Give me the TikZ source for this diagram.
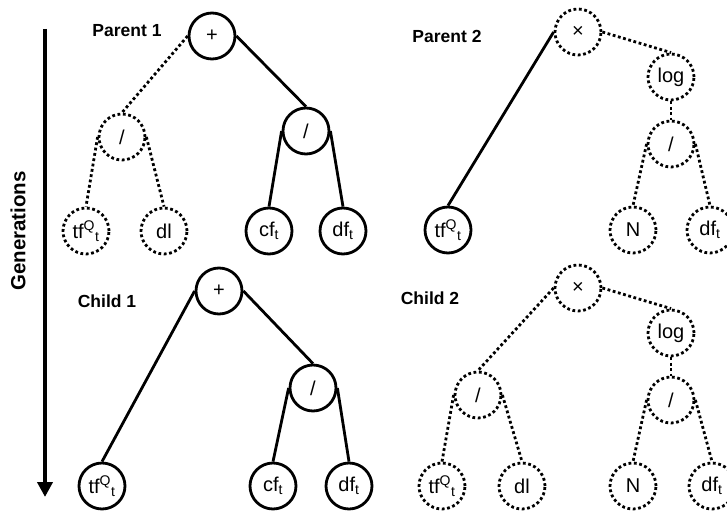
\documentclass[tikz,border=0pt]{standalone}
\usepackage{fontspec}
\setmainfont{Liberation Sans}
\usetikzlibrary{arrows.meta}

\begin{document}
\begin{tikzpicture}[x=1pt,y=-1pt,
    op/.style={circle,draw,line width=2.8pt,minimum size=46pt,inner sep=0pt,font=\fontsize{20}{22}\selectfont},
    dotop/.style={op,dash pattern=on 2.8pt off 2.6pt},
    edge/.style={line width=2.8pt},
    dotedge/.style={line width=2.8pt,dash pattern=on 2.8pt off 2.6pt},
    tag/.style={font=\fontsize{17.5}{20}\selectfont\bfseries}]
    \useasboundingbox (0,0) rectangle (727,516);
    \node[rotate=90,font=\fontsize{20.5}{22}\selectfont\bfseries] (gen) at (18,231) {Generations};
    \coordinate (gtop) at (45,29);
    \coordinate (gbot) at (45,497);
    \draw[line width=3.8pt,-{Triangle[width=15pt,length=15pt]}] (gtop) -- (gbot);
    % parent 1
    \node[tag] (lp1) at (127,31) {Parent 1};
    \node[op] (pa) at (212,36) {+};
    \node[dotop] (pal) at (122,137) {/};
    \node[op] (par) at (306,131) {/};
    \node[dotop] (pall) at (86,231) {tf\textsuperscript{Q}\textsubscript{t}};
    \node[dotop] (palr) at (164,231) {dl};
    \node[op] (parl) at (269,231) {cf\textsubscript{t}};
    \node[op] (parr) at (343,231) {df\textsubscript{t}};
    \draw[dotedge] (pa.west) -- (pal.north);
    \draw[edge] (pa.east) -- (par.north);
    \draw[dotedge] (pal.west) -- (pall.north);
    \draw[dotedge] (pal.east) -- (palr.north);
    \draw[edge] (par.west) -- (parl.north);
    \draw[edge] (par.east) -- (parr.north);
    % parent 2
    \node[tag] (lp2) at (447,36) {Parent 2};
    \node[dotop] (pb) at (578,32) {×};
    \node[op] (pbl) at (448,230) {tf\textsuperscript{Q}\textsubscript{t}};
    \node[dotop] (pbr) at (671,77) {log};
    \node[dotop] (pbrd) at (671,144) {/};
    \node[dotop] (pbrdl) at (633,230) {N};
    \node[dotop] (pbrdr) at (710,230) {df\textsubscript{t}};
    \draw[edge] (pb.west) -- (pbl.north);
    \draw[dotedge] (pb.east) -- (pbr.north);
    \draw[dotedge] (pbr.south) -- (pbrd.north);
    \draw[dotedge] (pbrd.west) -- (pbrdl.north);
    \draw[dotedge] (pbrd.east) -- (pbrdr.north);
    % child 1
    \node[tag] (lc1) at (107,301) {Child 1};
    \node[op] (ca) at (219,291) {+};
    \node[op] (cal) at (102,486) {tf\textsuperscript{Q}\textsubscript{t}};
    \node[op] (car) at (313,388) {/};
    \node[op] (carl) at (273,486) {cf\textsubscript{t}};
    \node[op] (carr) at (349,486) {df\textsubscript{t}};
    \draw[edge] (ca.west) -- (cal.north);
    \draw[edge] (ca.east) -- (car.north);
    \draw[edge] (car.west) -- (carl.north);
    \draw[edge] (car.east) -- (carr.north);
    % child 2
    \node[tag] (lc2) at (430,298) {Child 2};
    \node[dotop] (cb) at (578,288) {×};
    \node[dotop] (cbl) at (478,395) {/};
    \node[dotop] (cbll) at (442,486) {tf\textsuperscript{Q}\textsubscript{t}};
    \node[dotop] (cblr) at (522,486) {dl};
    \node[dotop] (cbr) at (671,333) {log};
    \node[dotop] (cbrd) at (671,400) {/};
    \node[dotop] (cbrdl) at (633,486) {N};
    \node[dotop] (cbrdr) at (712,486) {df\textsubscript{t}};
    \draw[dotedge] (cb.west) -- (cbl.north);
    \draw[dotedge] (cb.east) -- (cbr.north);
    \draw[dotedge] (cbl.west) -- (cbll.north);
    \draw[dotedge] (cbl.east) -- (cblr.north);
    \draw[dotedge] (cbr.south) -- (cbrd.north);
    \draw[dotedge] (cbrd.west) -- (cbrdl.north);
    \draw[dotedge] (cbrd.east) -- (cbrdr.north);
\end{tikzpicture}
\end{document}
